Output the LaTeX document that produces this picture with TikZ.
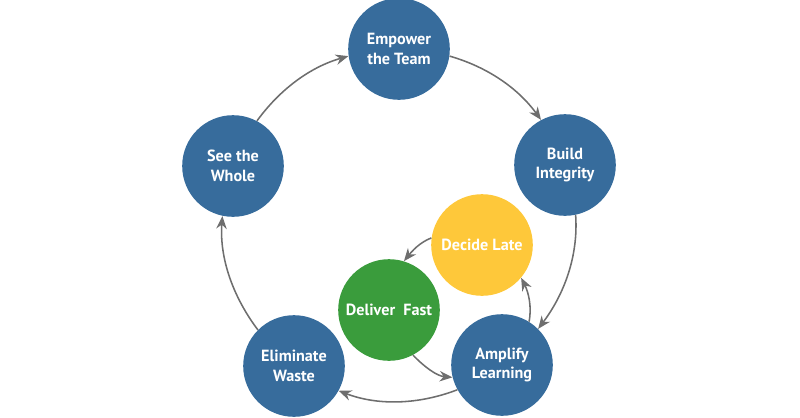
\documentclass[tikz,border=0pt]{standalone}
\usepackage{fontspec}
\setmainfont{PT Sans}
\usetikzlibrary{arrows.meta}
\definecolor{cblue}{HTML}{376C9C}
\definecolor{cyellow}{HTML}{FEC83A}
\definecolor{cgreen}{HTML}{3A9C3C}
\definecolor{carrow}{HTML}{6E6E6E}
\begin{document}
\begin{tikzpicture}[x=0.025cm,y=0.025cm,
  bubble/.style={circle,minimum size=2.54cm,inner sep=0pt,text=white,
    font=\fontsize{11.5}{14}\selectfont\bfseries,align=center},
  flow/.style={draw=carrow,line width=1.1pt,looseness=0.9,
    -{Stealth[length=3.2mm,width=2.6mm]}}]
\useasboundingbox (0,0) rectangle (800,417);
\node[bubble,fill=cblue] (emp) at (399,368) {Empower\\the Team};
\node[bubble,fill=cblue] (bui) at (565,252) {Build\\Integrity};
\node[bubble,fill=cblue] (see) at (233,251) {See the\\Whole};
\node[bubble,fill=cblue] (eli) at (294,51) {Eliminate\\Waste};
\node[bubble,fill=cblue] (amp) at (502,52) {Amplify\\Learning};
\node[bubble,fill=cyellow] (dec) at (482,172) {Decide Late};
\node[bubble,fill=cgreen] (del) at (389,107) {Deliver~ Fast};
% outer cycle
\draw[flow] (see.62) to[out=54,in=196] (emp.188);
\draw[flow] (emp.-8) to[out=-16,in=126] (bui.118);
\draw[flow] (bui.-78) to[out=-86,in=53] (amp.45);
\draw[flow] (amp.-151) to[out=-159,in=-21] (eli.-29);
\draw[flow] (eli.135) to[out=127,in=266] (see.258);
% inner cycle
\draw[flow] (dec.172) to[out=201,in=51] (del.73);
\draw[flow] (del.298) to[out=314,in=175] (amp.194);
\draw[flow] (amp.58) to[out=79,in=297] (dec.320);
\end{tikzpicture}
\end{document}
